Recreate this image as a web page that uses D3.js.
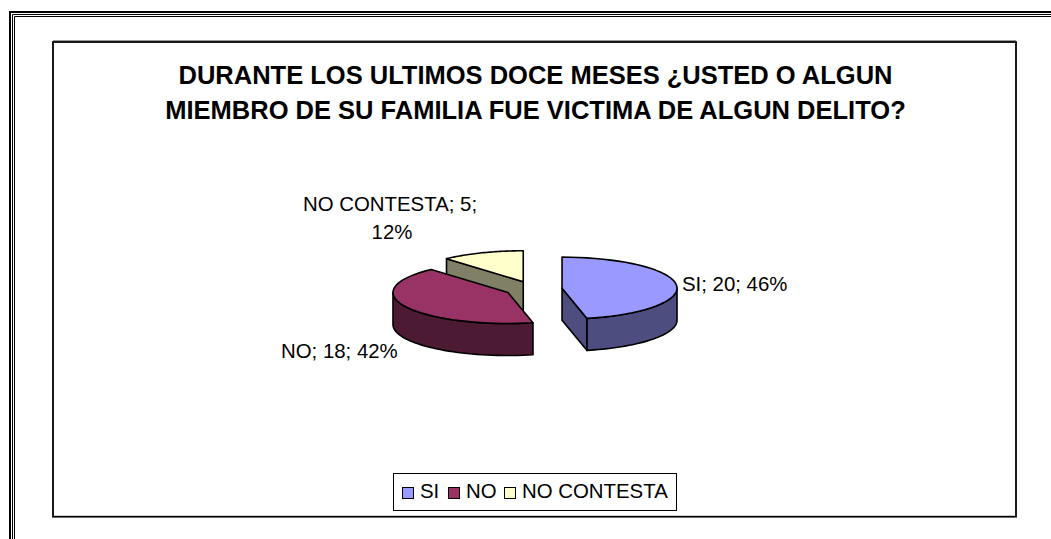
<!DOCTYPE html>
<html><head><meta charset="utf-8">
<script src="https://cdn.jsdelivr.net/npm/d3@7"></script>
<style>html,body{margin:0;padding:0;background:#fff}svg{display:block}text{font-family:"Liberation Sans",Arial,sans-serif;fill:#000}</style>
</head><body><svg id="c" width="1051" height="539"></svg>
<script>
const categories = ["SI","NO","NO CONTESTA"];
const values = [20,18,5];
const percentLabels = ["46%","42%","12%"];
const topColors = ["#9999FF","#993366","#FFFFCC"];
const sideColors = ["#4D4D80","#4D1A33","#808066"];
const titleLines = ["DURANTE LOS ULTIMOS DOCE MESES ¿USTED O ALGUN","MIEMBRO DE SU FAMILIA FUE VICTIMA DE ALGUN DELITO?"];

const svg = d3.select("#c");
const W=1051,H=539;
// page border
[[10,12,2],[12.5,14.5,1],[14.5,16.5,1]].forEach(([x,y,w])=>{
  svg.append("path").attr("d",`M${x},${H}V${y}H${W}`).attr("fill","none").attr("stroke","#000").attr("stroke-width",w);
});
// chart frame
svg.append("path").attr("d","M53,40.5H1016").attr("stroke","#999").attr("stroke-width",1);
svg.append("rect").attr("x",53).attr("y",42).attr("width",963).attr("height",474.7)
  .attr("fill","#fff").attr("stroke","#000").attr("stroke-width",1.8);
// title
svg.selectAll(".t").data(titleLines).enter().append("text")
  .attr("x",535.5).attr("y",(d,i)=>84+i*34.5).attr("text-anchor","middle")
  .attr("font-size",25.5).attr("font-weight","bold").text(d=>d);

// pie
const cx=533.5,cy=289,rx=115,ry=31,depth=32,explode=28.7;
const pie=d3.pie().sort(null).value(d=>d)(values);
const px=(c,a)=>c.x+rx*Math.sin(a), py=(c,a)=>c.y-ry*Math.cos(a);
const arcPts=(c,a0,a1,dy=0)=>d3.range(0,41).map(i=>{const a=a0+(a1-a0)*i/40;return [px(c,a),py(c,a)+dy];});
const line=d3.line();
const slices=pie.map((s,i)=>{const m=(s.startAngle+s.endAngle)/2;
  return {i,a0:s.startAngle,a1:s.endAngle,c:{x:cx+explode*Math.sin(m),y:cy-explode*ry/rx*Math.cos(m)}};});
const g=svg.append("g").attr("stroke","#000").attr("stroke-width",1.6).attr("stroke-linejoin","round");
// back to front
[2,1,0].forEach(k=>{
  const s=slices[k],c=s.c;
  const wall=a=>{
    const p=[[c.x,c.y],[px(c,a),py(c,a)],[px(c,a),py(c,a)+depth],[c.x,c.y+depth]];
    g.append("path").attr("d",line(p)+"Z").attr("fill",sideColors[k]);
  };
  if(Math.sin(s.a0)<-1e-6) wall(s.a0);
  if(Math.sin(s.a1)>1e-6) wall(s.a1);
  const lo=Math.max(s.a0,Math.PI/2),hi=Math.min(s.a1,Math.PI*1.5);
  if(hi>lo){
    const p=arcPts(c,lo,hi).concat(arcPts(c,hi,lo,depth));
    g.append("path").attr("d",line(p)+"Z").attr("fill",sideColors[k]);
  }
  const p=[[c.x,c.y]].concat(arcPts(c,s.a0,s.a1));
  g.append("path").attr("d",line(p)+"Z").attr("fill",topColors[k]);
});
// data labels
const fs=20.4;
const lab=(x,y,a,t)=>svg.append("text").attr("x",x).attr("y",y).attr("text-anchor",a).attr("font-size",fs).text(t);
lab(682,291,"start",`${categories[0]}; ${values[0]}; ${percentLabels[0]}`);
lab(281,358,"start",`${categories[1]}; ${values[1]}; ${percentLabels[1]}`);
lab(303,211,"start",`${categories[2]}; ${values[2]};`);
lab(392,239,"middle",percentLabels[2]);
// legend
svg.append("rect").attr("x",393.5).attr("y",473.5).attr("width",283).attr("height",37).attr("fill","#fff").attr("stroke","#000").attr("stroke-width",1);
const lx=[402.5,448.5,504.5], tx=[420,466,522];
categories.forEach((c,i)=>{
  svg.append("rect").attr("x",lx[i]).attr("y",487.5).attr("width",11).attr("height",11).attr("fill",topColors[i]).attr("stroke","#000").attr("stroke-width",1);
  svg.append("text").attr("x",tx[i]).attr("y",498).attr("font-size",fs).text(c);
});
</script></body></html>
